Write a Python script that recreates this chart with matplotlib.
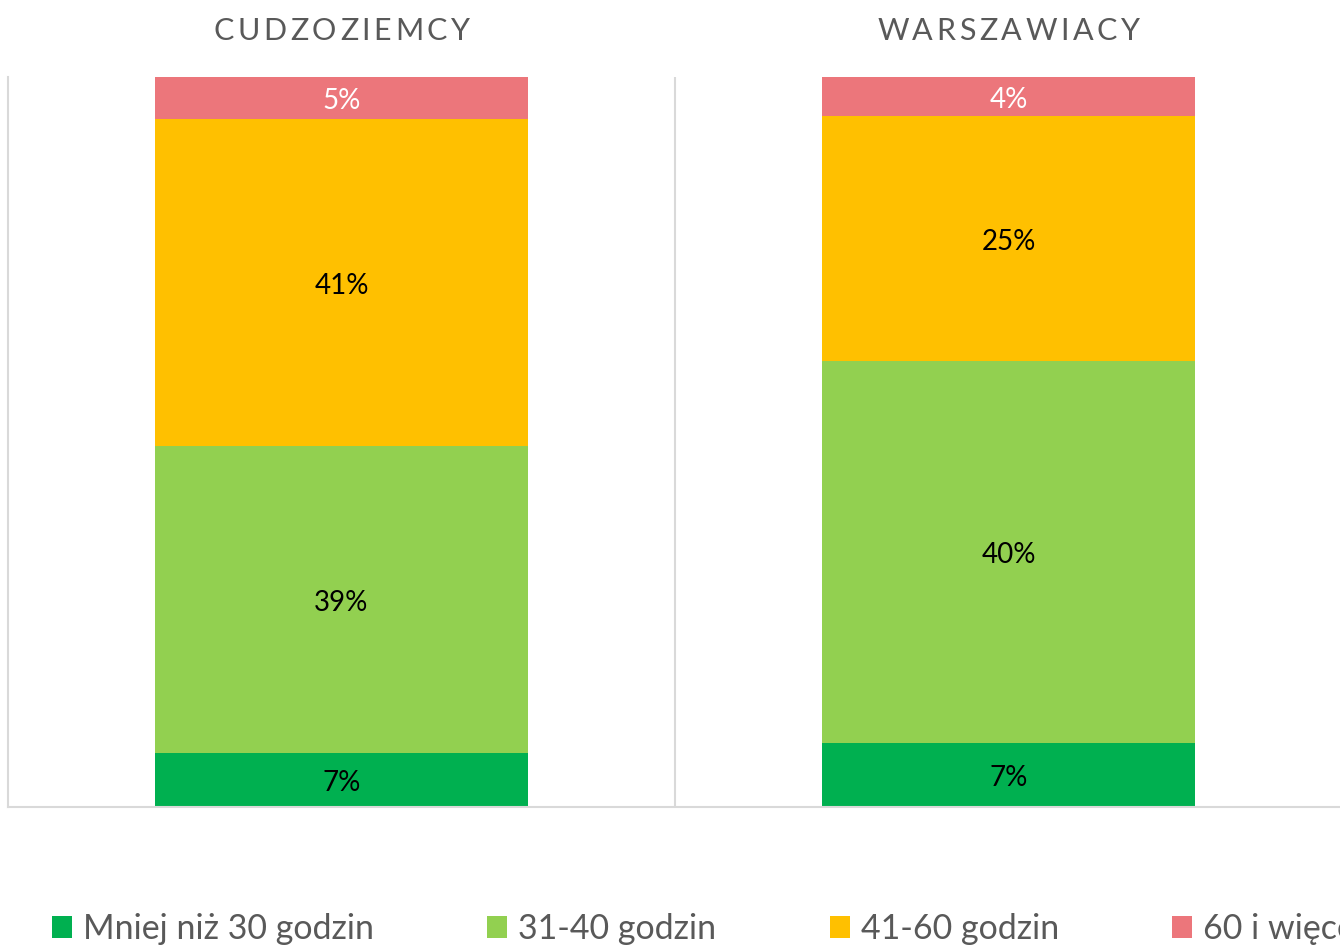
import matplotlib
matplotlib.use("Agg")
import matplotlib.pyplot as plt
from matplotlib.patches import Patch
from matplotlib.textpath import TextToPath
from matplotlib.font_manager import FontProperties
import matplotlib.transforms as mtransforms
import numpy as np

plt.rcParams['font.family'] = ['Lato', 'DejaVu Sans']

# ---- data ----
categories = ["CUDZOZIEMCY", "WARSZAWIACY"]
series_names = ["Mniej niż 30 godzin", "31-40 godzin", "41-60 godzin", "60 i więcej godzin"]
cudzoziemcy = [6.85, 38.9, 41.4, 5.3]
warszawiacy = [6.65, 39.6, 25.4, 4.05]
colors = ["#00B050", "#92D050", "#FFC000", "#EC767B"]
label_colors = ["black", "black", "black", "white"]

W, H = 1340, 946
fig = plt.figure(figsize=(W / 100, H / 100), dpi=100)
ax = fig.add_axes([8 / W, (H - 807) / H, (1342 - 8) / W, (807 - 77) / H])

data = np.array([cudzoziemcy, warszawiacy])  # rows: categories
norm = data / data.sum(axis=1, keepdims=True)
x = np.arange(len(categories))
bottom = np.zeros(len(categories))
for i, name in enumerate(series_names):
    vals = norm[:, i]
    ax.bar(x, vals, bottom=bottom, width=0.558, color=colors[i], label=name, zorder=2)
    for j in range(len(categories)):
        ax.annotate(f"{round(data[j, i]):.0f}%", xy=(x[j], bottom[j] + vals[j] / 2),
                    xytext=(0, -2.5), textcoords="offset points",
                    ha="center", va="center", fontsize=20, color=label_colors[i], zorder=3)
    bottom += vals

ax.set_xlim(-0.5, 1.5)
ax.set_ylim(0, 1)
ax.set_xticks([])
ax.set_yticks([])
grid_c = "#D9D9D9"
for s in ["top", "right"]:
    ax.spines[s].set_visible(False)
for s in ["left", "bottom"]:
    ax.spines[s].set_color(grid_c)
    ax.spines[s].set_linewidth(1.5)
ax.axvline(0.5, color=grid_c, lw=1.5, zorder=1)

# ---- category titles with letter spacing ----
title_fs = 22
prop = FontProperties(family=['Lato', 'DejaVu Sans'], size=title_fs)
t2p = TextToPath()
spacing_px = 3.5
trans_base = mtransforms.blended_transform_factory(ax.transData, fig.transFigure)
for j, cat in enumerate(categories):
    widths = [t2p.get_text_width_height_descent(ch, prop, ismath=False)[0] * 100 / 72 for ch in cat]
    total = sum(widths) + spacing_px * (len(cat) - 1)
    off = -total / 2
    for ch, w in zip(cat, widths):
        tr = mtransforms.offset_copy(trans_base, fig=fig, x=off, y=0, units="dots")
        fig.text(x[j], (H - 39.5) / H, ch, transform=tr, ha="left", va="baseline",
                 fontsize=title_fs, color="#595959")
        off += w + spacing_px

# ---- legend ----
handles = [Patch(facecolor=c, edgecolor="none") for c in colors]
fig.legend(handles, series_names, loc="center left", bbox_to_anchor=(52 / W, 17 / H),
           ncol=4, frameon=False, fontsize=24.5, handlelength=0.59, handleheight=0.59,
           handletextpad=0.32, columnspacing=3.33, borderpad=0, borderaxespad=0,
           labelcolor="#595959")

fig.savefig("out.png", dpi=100)
